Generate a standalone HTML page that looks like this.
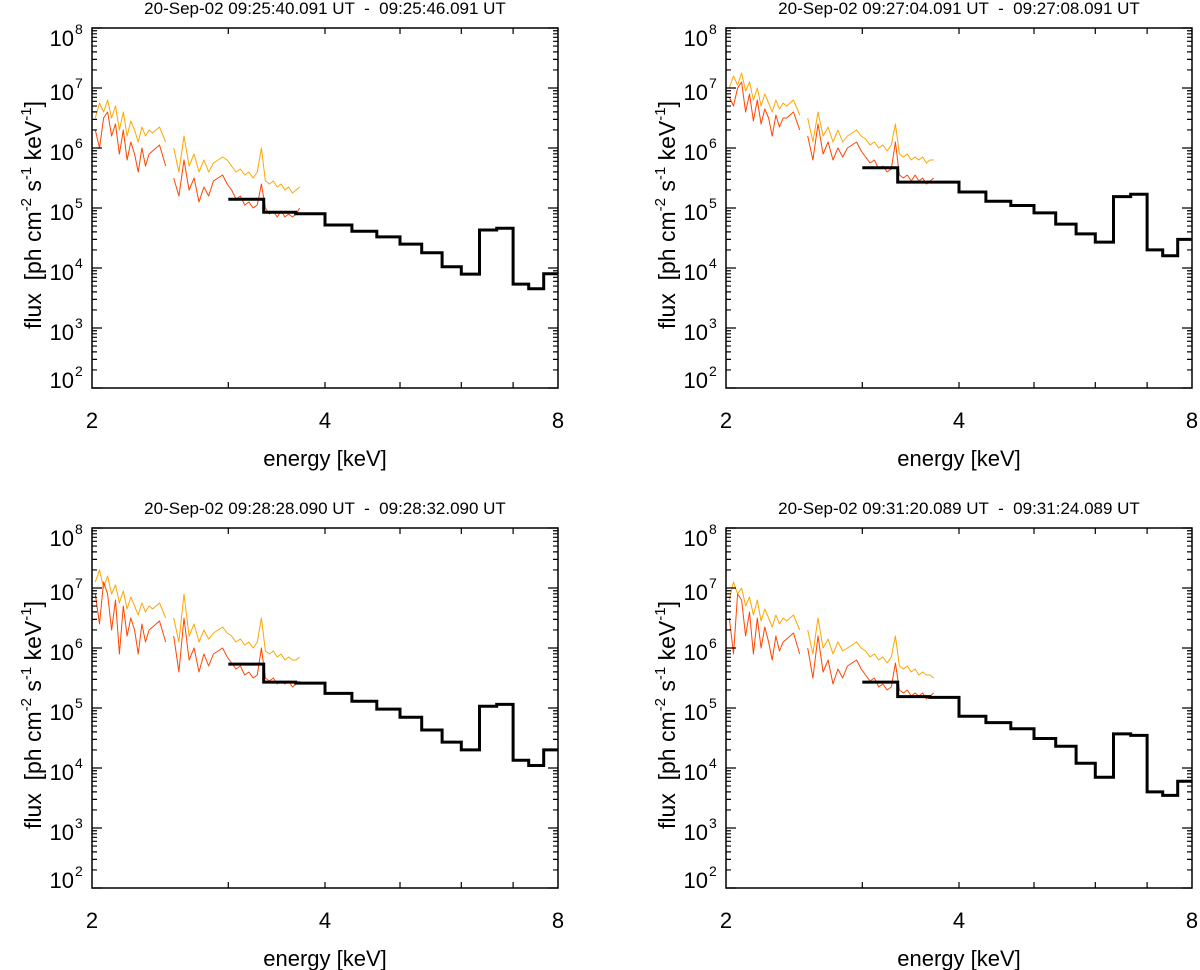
<!DOCTYPE html>
<html><head><meta charset="utf-8">
<style>
html,body{margin:0;padding:0;background:#fff;}
svg{display:block;font-family:"Liberation Sans",sans-serif;}
text{white-space:pre;}
</style></head>
<body>
<svg id="fig" width="1200" height="970" viewBox="0 0 1200 970" xmlns="http://www.w3.org/2000/svg"></svg>
<script>
// ---- data ----
const titles = [
 "20-Sep-02 09:25:40.091 UT  -  09:25:46.091 UT",
 "20-Sep-02 09:27:04.091 UT  -  09:27:08.091 UT",
 "20-Sep-02 09:28:28.090 UT  -  09:28:32.090 UT",
 "20-Sep-02 09:31:20.089 UT  -  09:31:24.089 UT"];
const binEdges = [3.0,3.333,3.667,4.0,4.333,4.667,5.0,5.333,5.667,6.0,6.333,6.667,7.0,7.333,7.667,8.0];
const hist1 = [1.4e5,8.5e4,8e4,5.2e4,4.1e4,3.3e4,2.5e4,1.8e4,1.05e4,7.9e3,4.3e4,4.6e4,5.4e3,4.5e3,8e3];
const hist2 = [4.7e5,2.7e5,2.7e5,1.85e5,1.3e5,1.1e5,8.3e4,5.4e4,3.7e4,2.7e4,1.55e5,1.7e5,2e4,1.6e4,3e4];
const hist3 = [5.4e5,2.7e5,2.6e5,1.75e5,1.3e5,9.6e4,7e4,4.3e4,2.7e4,2e4,1.07e5,1.15e5,1.35e4,1.1e4,2e4];
const hist4 = [2.7e5,1.55e5,1.5e5,7.3e4,5.7e4,4.5e4,3.1e4,2.3e4,1.2e4,7e3,3.7e4,3.5e4,4e3,3.5e3,6e3];
const energyA = [2.02,2.045,2.07,2.095,2.12,2.145,2.17,2.195,2.22,2.245,2.27,2.295,2.32,2.345,2.37,2.395,2.42,2.445,2.49];
const energyB = [2.55,2.59,2.63,2.67,2.71,2.75,2.79,2.83,2.87,2.91,2.95,2.99,3.03,3.07,3.11,3.15,3.19,3.23,3.27,3.31,3.35,3.39,3.43,3.47,3.51,3.55,3.59,3.63,3.67,3.71];
const p1OrangeA=[6.5,6.75,6.6,6.8,6.5,6.7,6.3,6.6,6.2,6.45,6.3,6.1,6.35,6.2,6.3,6.25,6.3,6.35,6.1];
const p1RedA   =[6.3,6.0,6.5,6.6,6.2,6.4,5.9,6.3,5.8,6.1,5.9,5.6,6.0,5.7,5.9,5.95,6.0,6.05,5.7];
const p1OrangeB=[6.0,5.6,6.2,5.7,5.9,5.6,5.8,5.6,5.75,5.8,5.85,5.8,5.7,5.6,5.65,5.55,5.6,5.5,5.6,6.0,5.45,5.4,5.45,5.35,5.4,5.3,5.35,5.25,5.3,5.35];
const p1RedB   =[5.5,5.2,5.8,5.3,5.5,5.1,5.35,5.2,5.45,5.5,5.55,5.4,5.3,5.15,5.2,5.05,5.1,5.0,5.05,5.4,5.0,4.9,4.95,4.85,4.95,4.85,4.9,4.85,4.9,5.0];
const p2OrangeA=[7.0,7.2,7.05,7.25,6.95,7.1,6.8,7.0,6.7,6.9,6.75,6.6,6.8,6.65,6.75,6.7,6.75,6.8,6.55];
const p2RedA   =[6.85,6.7,7.0,7.1,6.6,6.9,6.45,6.8,6.4,6.65,6.5,6.2,6.55,6.35,6.5,6.5,6.55,6.6,6.3];
const p2OrangeB=[6.5,6.1,6.6,6.2,6.35,6.1,6.3,6.1,6.2,6.25,6.3,6.2,6.15,6.05,6.1,6.0,6.05,5.95,6.05,6.4,5.9,5.85,5.9,5.8,5.85,5.8,5.85,5.75,5.8,5.8];
const p2RedB   =[6.2,5.8,6.4,5.9,6.1,5.8,6.0,5.85,6.0,6.05,6.1,5.95,5.85,5.75,5.8,5.65,5.7,5.6,5.65,6.1,5.55,5.5,5.55,5.45,5.55,5.45,5.5,5.4,5.45,5.5];
const p3OrangeA=[7.1,7.3,7.0,7.2,6.9,7.05,6.75,6.95,6.65,6.85,6.7,6.55,6.75,6.6,6.7,6.65,6.7,6.75,6.5];
const p3RedA   =[6.9,6.4,7.1,6.9,6.3,6.8,5.9,6.7,6.2,6.5,6.3,5.9,6.4,6.1,6.3,6.35,6.4,6.45,6.1];
const p3OrangeB=[6.5,6.1,6.9,6.2,6.4,6.1,6.3,6.15,6.25,6.3,6.35,6.25,6.2,6.1,6.15,6.05,6.1,6.0,6.1,6.5,5.95,5.9,5.95,5.85,5.9,5.8,5.85,5.8,5.8,5.85];
const p3RedB   =[6.2,5.6,6.5,5.8,6.0,5.6,5.9,5.7,5.9,5.95,6.0,5.85,5.75,5.65,5.7,5.55,5.6,5.5,5.55,6.0,5.5,5.45,5.5,5.4,5.45,5.4,5.45,5.35,5.4,5.45];
const p4OrangeA=[6.8,7.1,6.9,7.0,6.7,6.85,6.55,6.8,6.45,6.65,6.5,6.35,6.55,6.4,6.5,6.45,6.5,6.55,6.3];
const p4RedA   =[6.5,5.9,6.9,6.8,6.2,6.6,5.9,6.5,6.0,6.35,6.1,5.8,6.2,5.95,6.1,6.15,6.2,6.25,5.9];
const p4OrangeB=[6.3,5.9,6.5,6.0,6.15,5.9,6.1,5.95,6.0,6.05,6.1,6.0,5.95,5.85,5.9,5.8,5.85,5.75,5.85,6.2,5.7,5.65,5.7,5.6,5.65,5.55,5.6,5.55,5.55,5.5];
const p4RedB   =[6.0,5.5,6.2,5.6,5.8,5.4,5.65,5.5,5.7,5.75,5.8,5.65,5.55,5.45,5.5,5.35,5.4,5.3,5.35,5.75,5.3,5.25,5.3,5.2,5.25,5.2,5.25,5.15,5.2,5.25];
const xTickLabels = ["2","4","8"];
const xMinorTicks = [3,5,6,7];
const yDecades = [2,3,4,5,6,7,8];

const panels = [
 {ox:0,oy:0,hist:hist1,oa:p1OrangeA,ra:p1RedA,ob:p1OrangeB,rb:p1RedB},
 {ox:634,oy:0,hist:hist2,oa:p2OrangeA,ra:p2RedA,ob:p2OrangeB,rb:p2RedB},
 {ox:0,oy:500,hist:hist3,oa:p3OrangeA,ra:p3RedA,ob:p3OrangeB,rb:p3RedB},
 {ox:634,oy:500,hist:hist4,oa:p4OrangeA,ra:p4RedA,ob:p4OrangeB,rb:p4RedB}];

const NS="http://www.w3.org/2000/svg";
const svg=document.getElementById('fig');
function mk(tag,attrs,parent){const e=document.createElementNS(NS,tag);for(const k in attrs)e.setAttribute(k,attrs[k]);parent.appendChild(e);return e;}

panels.forEach((p,i)=>{
  const L=92+p.ox,R=558+p.ox,T=28+p.oy,B=388+p.oy;
  const xs=e=>L+(R-L)*Math.log(e/2)/Math.log(4);
  const ys=lv=>B-(B-T)*(lv-2)/6;
  const g=mk('g',{},svg);
  
  
  const t=mk('text',{x:(L+R)/2,y:14+p.oy,'text-anchor':'middle','font-size':'17'},g);
  t.textContent=titles[i];
  
  
  const line=(es,vals,col,name)=>{
    const pts=es.map((e,k)=>xs(e).toFixed(1)+','+ys(vals[k]).toFixed(1)).join(' ');
    const pl=mk('polyline',{points:pts,fill:'none',stroke:col,'stroke-width':'1','stroke-linejoin':'round'},g);
    
    
  };
  line(energyA,p.oa,'#ffa500','orange-spectrum-low');
  line(energyB,p.ob,'#ffa500','orange-spectrum-high');
  line(energyA,p.ra,'#ff4500','red-spectrum-low');
  line(energyB,p.rb,'#ff4500','red-spectrum-high');
  let d='';
  p.hist.forEach((v,k)=>{
    const x0=xs(binEdges[k]),x1=xs(binEdges[k+1]),y=ys(Math.log10(v));
    d+=(k===0?'M':'L')+x0.toFixed(1)+','+y.toFixed(1)+'L'+x1.toFixed(1)+','+y.toFixed(1);
  });
  const h=mk('path',{d:d,fill:'none',stroke:'#000','stroke-width':'3'},g);
  
  
  const fr=mk('rect',{x:L,y:T,width:R-L,height:B-T,fill:'none',stroke:'#000','stroke-width':'1.5'},g);
  
  
  let td='';
  yDecades.forEach(dd=>{
    const y=ys(dd);
    td+=`M${L},${y}h10M${R},${y}h-10`;
    if(dd<8){for(let m=2;m<=9;m++){const ym=ys(dd+Math.log10(m));td+=`M${L},${ym}h5M${R},${ym}h-5`;}}
  });
  xMinorTicks.concat([4]).forEach(e=>{const x=xs(e);td+=`M${x},${B}v-6M${x},${T}v6`;});
  const tk=mk('path',{d:td,stroke:'#000','stroke-width':'1.2',fill:'none'},g);
  
  
  yDecades.forEach(dd=>{
    let cy=ys(dd)+4; if(dd===8)cy=T+10; if(dd===2)cy=B-8;
    const tx=mk('text',{x:74+p.ox,y:cy+8,'text-anchor':'end','font-size':'22'},g);
    tx.textContent='10';
    
    
    const sp=mk('text',{x:75+p.ox,y:cy-4,'font-size':'14'},g);
    sp.textContent=String(dd);
    
    
  });
  [2,4,8].forEach((e,k)=>{
    const tx=mk('text',{x:xs(e),y:428+p.oy,'text-anchor':'middle','font-size':'22'},g);
    tx.textContent=xTickLabels[k];
    
    
  });
  const xt=mk('text',{x:(L+R)/2,y:466+p.oy,'text-anchor':'middle','font-size':'22'},g);
  xt.textContent='energy [keV]';
  
  
  const yt=mk('text',{transform:`translate(${41+p.ox},${215+p.oy}) rotate(-90)`,'text-anchor':'middle','font-size':'23'},g);
  
  
  yt.innerHTML='flux  [ph cm<tspan font-size="15" dy="-10">-2</tspan><tspan dy="10"> s</tspan><tspan font-size="15" dy="-10">-1</tspan><tspan dy="10"> keV</tspan><tspan font-size="15" dy="-10">-1</tspan><tspan dy="10">]</tspan>';
});
</script>
</body></html>
